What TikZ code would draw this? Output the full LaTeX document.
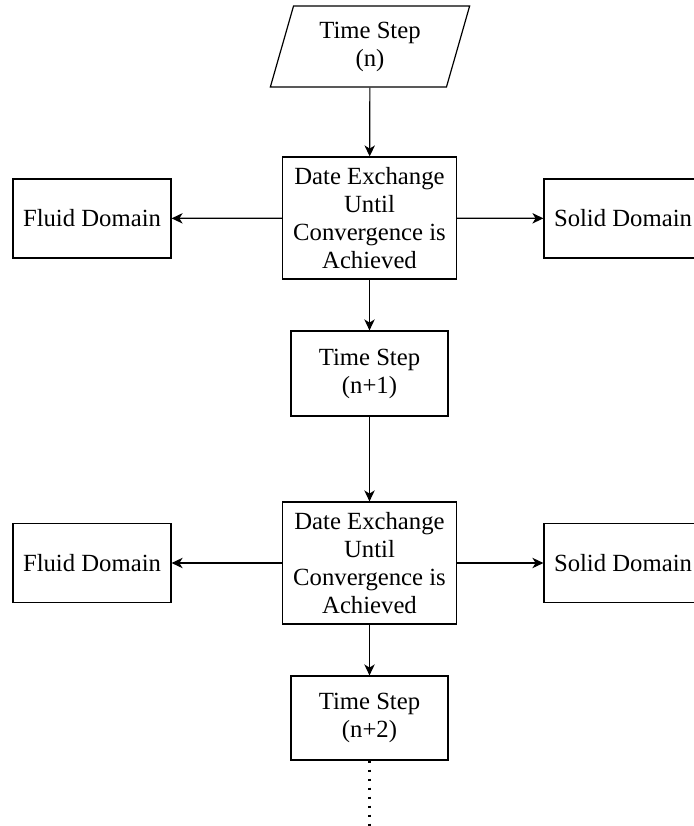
\documentclass[tikz,border=0pt]{standalone}
\usepackage{fontspec}
\setmainfont{Liberation Serif}
\usetikzlibrary{shapes.geometric,arrows.meta}

\tikzset{
  box/.style={draw,line width=0.6pt,align=center,inner sep=0pt},
  flow/.style={line width=0.6pt,-{Stealth[length=5.5pt,width=5.2pt,inset=1.6pt]}}
}

\begin{document}
\begin{tikzpicture}[x=0.5pt,y=-0.5pt,font=\fontsize{12.35}{14}\selectfont]
\useasboundingbox (0,0) rectangle (693,826);
\node[box,trapezium,trapezium left angle=72.8,trapezium right angle=107.2,trapezium stretches=true,minimum width=100pt,minimum height=40.5pt] (ts0) at (370,46.5) {Time Step\\(n)};
\node[box,minimum width=87pt,minimum height=61pt] (ex1) at (369.5,218) {Date Exchange\\Until\\Convergence is\\Achieved};
\node[box,minimum width=79pt,minimum height=39.5pt] (fl1) at (92,218.5) {Fluid Domain};
\node[box,minimum width=79pt,minimum height=39.5pt] (so1) at (623,218.5) {Solid Domain};
\node[box,minimum width=78.5pt,minimum height=42.5pt] (ts1) at (369.5,373.5) {Time Step\\(n+1)};
\node[box,minimum width=87pt,minimum height=61pt] (ex2) at (369.5,563) {Date Exchange\\Until\\Convergence is\\Achieved};
\node[box,minimum width=79pt,minimum height=39.5pt] (fl2) at (92,563) {Fluid Domain};
\node[box,minimum width=79pt,minimum height=39.5pt] (so2) at (623,563) {Solid Domain};
\node[box,minimum width=78.5pt,minimum height=42pt] (ts2) at (369.5,718) {Time Step\\(n+2)};
\coordinate (more) at (369.5,826);
\draw[flow] (ts0) -- (ex1);
\draw[flow] (ex1) -- (fl1);
\draw[flow] (ex1) -- (so1);
\draw[flow] (ex1) -- (ts1);
\draw[flow] (ts1) -- (ex2);
\draw[flow] (ex2) -- (fl2);
\draw[flow] (ex2) -- (so2);
\draw[flow] (ex2) -- (ts2);
\draw[line width=1.2pt,dash pattern=on 1.2pt off 3.3pt] (ts2.south) -- (more);
\end{tikzpicture}
\end{document}
